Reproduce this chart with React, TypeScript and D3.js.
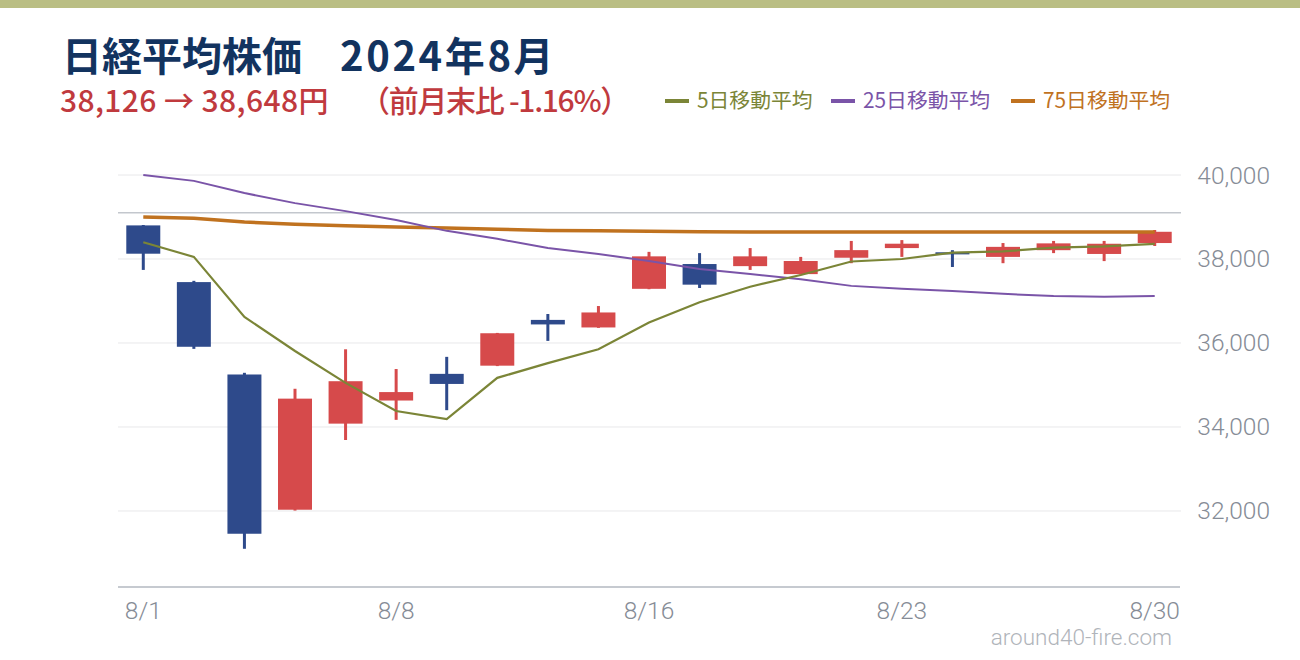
import React from "react";
import * as d3 from "d3";

const dates = ["8/1","8/2","8/5","8/6","8/7","8/8","8/9","8/13","8/14","8/15","8/16","8/19","8/20","8/21","8/22","8/23","8/26","8/27","8/28","8/29","8/30"];
const opens  = [38800,37450,35250,32030,34080,34630,35265,35460,36550,36370,37290,37880,37830,37640,38030,38260,38160,38050,38210,38120,38380];
const highs  = [38810,37480,35290,34910,35850,35380,35670,36240,36690,36880,38170,38140,38260,38050,38430,38450,38210,38380,38430,38430,38690];
const lows   = [37740,35860,31100,32010,33690,34170,34400,35450,36050,36360,37280,37310,37740,37630,37900,38050,37810,37900,38140,37950,38310];
const closes = [38126,35910,31458,34675,35090,34831,35025,36232,36442,36727,38063,37389,38063,37952,38211,38364,38110,38289,38372,38363,38648];
const ma5  = [38400,38050,36620,35810,35050,34380,34190,35170,35520,35850,36490,36970,37340,37620,37940,38000,38150,38180,38270,38300,38360];
const ma25 = [40000,39860,39570,39330,39140,38930,38670,38480,38260,38120,37950,37760,37640,37520,37360,37290,37240,37170,37120,37100,37120];
const ma75 = [39000,38970,38880,38830,38790,38760,38740,38710,38680,38670,38660,38650,38645,38645,38640,38640,38640,38640,38640,38640,38640];
const prevMonthClose = 39102;
const yTicks = [32000, 34000, 36000, 38000, 40000];
const xTickLabels = ["8/1", "8/8", "8/16", "8/23", "8/30"];
const legendItems = [
  { label: "5日移動平均", key: "ma5" },
  { label: "25日移動平均", key: "ma25" },
  { label: "75日移動平均", key: "ma75" },
];

const COLORS = {
  up: "#d64a4b",
  down: "#2e4a8b",
  ma5: "#7b8537",
  ma25: "#7a54a8",
  ma75: "#c0721f",
  grid: "#e8e8ea",
  ref: "#c3c7cd",
  axis: "#c6cad0",
  tick: "#868c96",
  title: "#12335f",
  sub: "#c03a3e",
  band: "#babe84",
  wm: "#b0b4ba",
};

const JP = "'Noto Sans CJK JP', 'Noto Sans', sans-serif";
const LIGHT = "Roboto, 'Noto Sans', sans-serif";

export default function App() {
  const left = 118, right = 1180, bottom = 587;
  const x = d3.scaleBand<string>().domain(dates).range([left, right]).paddingInner(0.328).paddingOuter(0.164);
  const y = d3.scaleLinear().domain([30190, 40000]).range([bottom, 175]);
  const bw = x.bandwidth();
  const cx = (i: number) => (x(dates[i]) as number) + bw / 2;

  const line = d3.line<number>().x((_, i) => cx(i)).y((v) => y(v));
  const maData: Record<string, number[]> = { ma5, ma25, ma75 };
  const maWidth: Record<string, number> = { ma5: 2.2, ma25: 2, ma75: 3.5 };

  const legendX = [665, 831, 1011];

  return (
    <svg width={1300} height={660} style={{ position: "absolute", left: 0, top: 0, background: "#fff" }}>
      <rect x={0} y={0} width={1300} height={8} fill={COLORS.band} />
      <text x={62} y={71} fontFamily={JP} fontWeight={700} fontSize={40} fill={COLORS.title}>日経平均株価</text>
      <text x={340} y={71} fontFamily={JP} fontWeight={700} fontSize={40} letterSpacing={2.6} fill={COLORS.title}>2024年8月</text>
      <text x={60} y={112} fontFamily={JP} fontWeight={500} fontSize={30} letterSpacing={0.4} fill={COLORS.sub}>38,126 → 38,648円</text>
      <text x={360} y={112} fontFamily={JP} fontWeight={500} fontSize={30} letterSpacing={-1.3} fill={COLORS.sub}>（前月末比 -1.16%）</text>

      {legendItems.map((it, i) => (
        <g key={it.key}>
          <line x1={legendX[i]} x2={legendX[i] + 24} y1={101} y2={101} stroke={(COLORS as any)[it.key]} strokeWidth={4} />
          <text x={legendX[i] + 32} y={108} fontFamily={JP} fontSize={20.8} fill={(COLORS as any)[it.key]}>{it.label}</text>
        </g>
      ))}

      {yTicks.map((t) => (
        <g key={t}>
          <line x1={left} x2={right + 1} y1={y(t)} y2={y(t)} stroke={COLORS.grid} strokeWidth={1} />
          <text x={1270} y={y(t) + 8.5} textAnchor="end" fontFamily={LIGHT} fontWeight={300} fontSize={24.5} fill={COLORS.tick}>{d3.format(",")(t)}</text>
        </g>
      ))}
      <line x1={left} x2={right + 1} y1={y(prevMonthClose)} y2={y(prevMonthClose)} stroke={COLORS.ref} strokeWidth={1.5} />
      <line x1={left} x2={right} y1={bottom} y2={bottom} stroke={COLORS.axis} strokeWidth={2} />

      {xTickLabels.map((lab) => {
        const i = dates.indexOf(lab);
        return (
          <text key={lab} x={cx(i)} y={619} textAnchor="middle" fontFamily={LIGHT} fontWeight={300} fontSize={24.5} fill={COLORS.tick}>{lab}</text>
        );
      })}

      {dates.map((d, i) => {
        const up = closes[i] >= opens[i];
        const c = up ? COLORS.up : COLORS.down;
        const top = y(Math.max(opens[i], closes[i]));
        const bot = y(Math.min(opens[i], closes[i]));
        return (
          <g key={d}>
            <line x1={cx(i)} x2={cx(i)} y1={y(highs[i])} y2={y(lows[i])} stroke={c} strokeWidth={3} />
            <rect x={x(d)} y={top} width={bw} height={Math.max(1, bot - top)} fill={c} />
          </g>
        );
      })}

      {["ma75", "ma25", "ma5"].map((k) => (
        <path key={k} d={line(maData[k]) || ""} fill="none" stroke={(COLORS as any)[k]} strokeWidth={maWidth[k]} />
      ))}

      <text x={1172} y={645} textAnchor="end" fontFamily={LIGHT} fontWeight={300} fontSize={22.5} fill={COLORS.wm}>around40-fire.com</text>
    </svg>
  );
}
